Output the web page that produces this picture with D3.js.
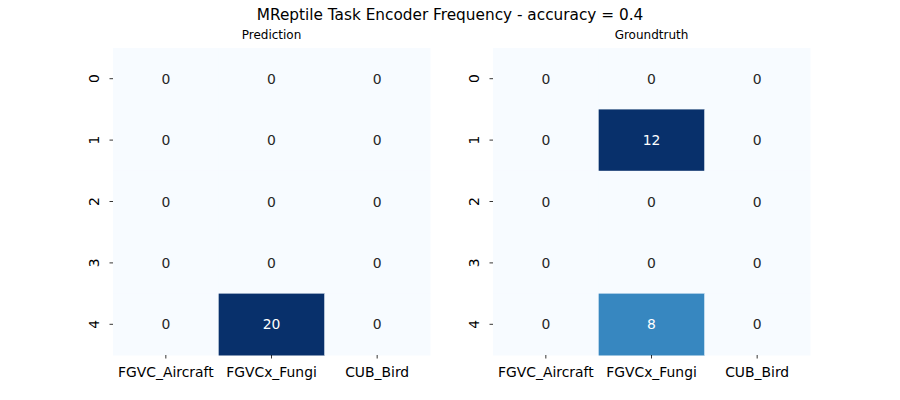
<!DOCTYPE html>
<html><head><meta charset="utf-8">
<script src="https://cdn.jsdelivr.net/npm/d3@7"></script>
<style>body{margin:0;background:#fff}text{font-family:"DejaVu Sans",sans-serif}</style>
</head><body><svg id="c" width="900" height="400"></svg>
<script>
const categories = ["FGVC_Aircraft", "FGVCx_Fungi", "CUB_Bird"];
const rowLabels = ["0", "1", "2", "3", "4"];
const prediction = [[0,0,0],[0,0,0],[0,0,0],[0,0,0],[0,20,0]];
const groundtruth = [[0,0,0],[0,12,0],[0,0,0],[0,0,0],[0,8,0]];
const titles = ["Prediction", "Groundtruth"];
const mainTitle = "MReptile Task Encoder Frequency - accuracy = 0.4";

(function(){
const svg = d3.select("#c");
svg.append("text").attr("x", 450).attr("y", 19.5).attr("text-anchor", "middle")
  .attr("font-size", 15.3).attr("fill", "#000").text(mainTitle);

const panels = [{data: prediction, left: 113}, {data: groundtruth, left: 493}];
const plotTop = 48, w = 317, h = 307;
panels.forEach((p, i) => {
  const g = svg.append("g").attr("transform", `translate(${p.left},${plotTop})`);
  const x = d3.scaleBand().domain(categories).range([0, w]);
  const y = d3.scaleBand().domain(rowLabels).range([0, h]);
  const maxV = d3.max(p.data.flat());
  const color = d3.scaleSequential(d3.interpolateBlues).domain([0, maxV]);
  const cells = [];
  p.data.forEach((row, r) => row.forEach((v, c) => cells.push({r: rowLabels[r], c: categories[c], v})));
  g.selectAll("rect").data(cells).join("rect")
    .attr("x", d => x(d.c)).attr("y", d => y(d.r))
    .attr("width", x.bandwidth() + 0.5).attr("height", y.bandwidth() + 0.5)
    .attr("fill", d => color(d.v));
  g.selectAll("text.v").data(cells).join("text").attr("class", "v")
    .attr("x", d => x(d.c) + x.bandwidth() / 2).attr("y", d => y(d.r) + y.bandwidth() / 2)
    .attr("text-anchor", "middle").attr("dy", "0.36em").attr("font-size", 13.9)
    .attr("fill", d => d.v / maxV > 0.5 ? "#ffffff" : "#262626").text(d => d.v);
  const xa = g.append("g").attr("transform", `translate(0,${h})`)
    .call(d3.axisBottom(x).tickSize(3.5).tickPadding(5));
  xa.select(".domain").remove();
  xa.selectAll("text").attr("font-size", 13.9).attr("fill", "#000").attr("dy", "0.95em");
  xa.selectAll("line").attr("stroke", "#000").attr("stroke-width", 0.8);
  const ya = g.append("g").call(d3.axisLeft(y).tickSize(3.5).tickPadding(3.5));
  ya.select(".domain").remove();
  ya.selectAll("line").attr("stroke", "#000").attr("stroke-width", 0.8);
  ya.selectAll("text").attr("font-size", 13.9).attr("fill", "#000")
    .attr("text-anchor", "middle").attr("dy", null)
    .attr("transform", "translate(-19,0) rotate(-90)").attr("x", 0).attr("y", 0)
    .attr("dominant-baseline", "central");
  g.append("text").attr("x", w / 2).attr("y", -9).attr("text-anchor", "middle")
    .attr("font-size", 12).attr("fill", "#000").text(titles[i]);
});
})();
</script></body></html>
